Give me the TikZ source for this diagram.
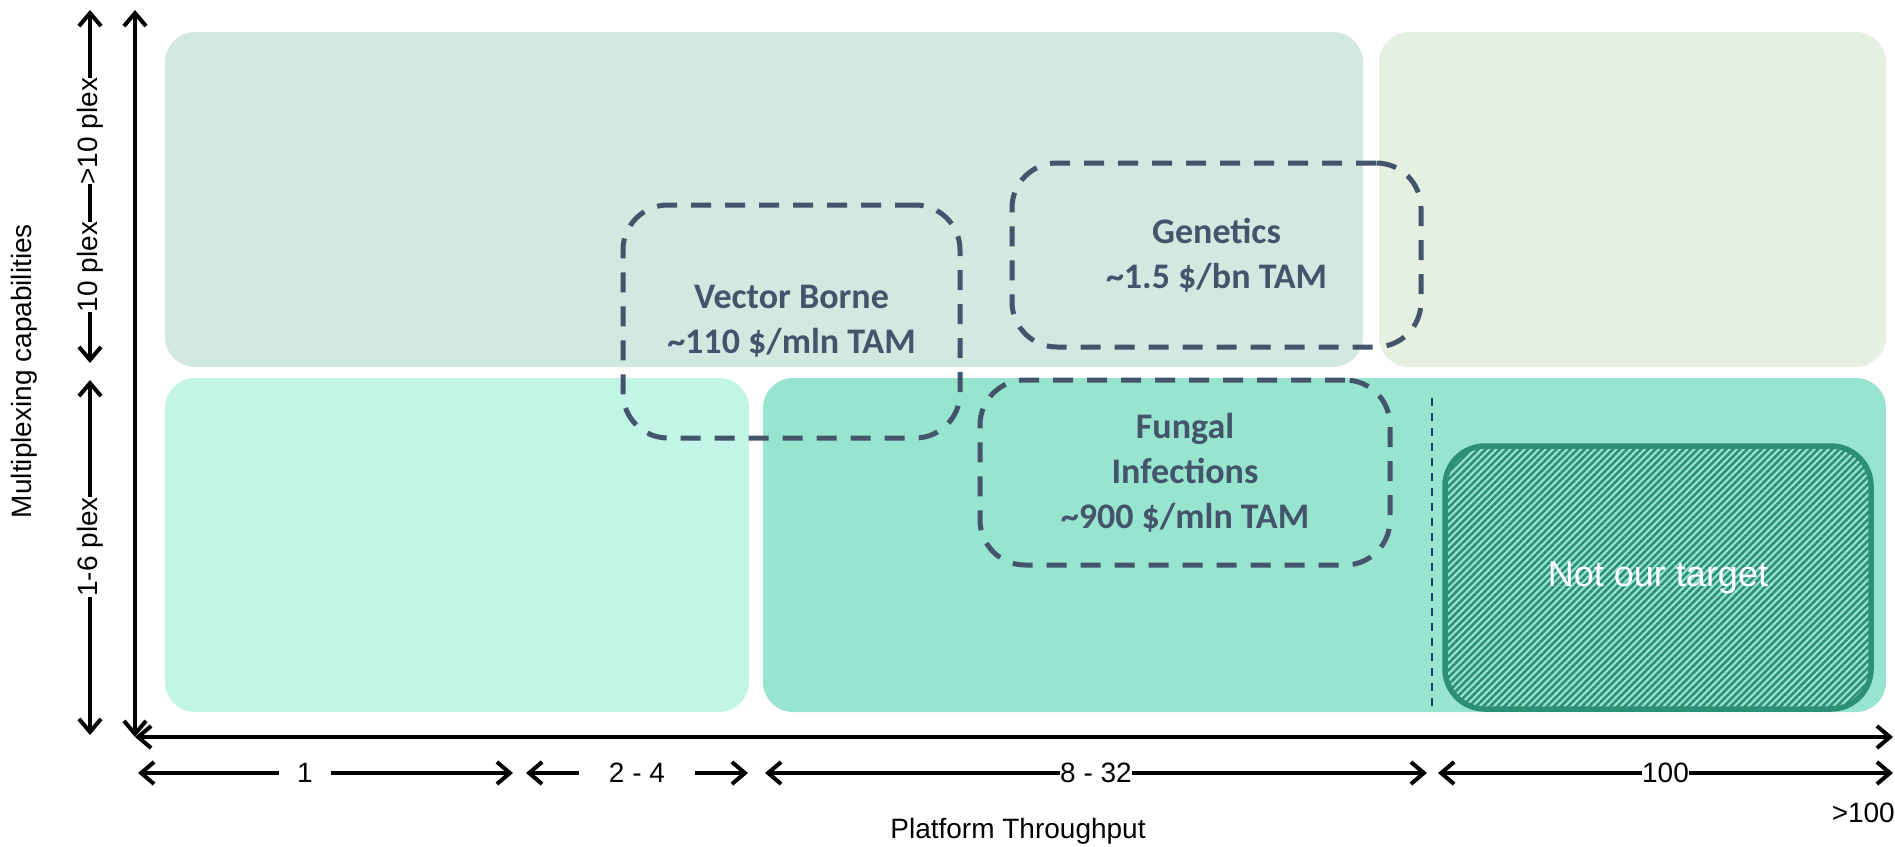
\documentclass[tikz,border=0pt]{standalone}
\usepackage{fontspec}
\setmainfont{Liberation Sans}
\newfontfamily\calibri{Carlito}
\usepackage{tikz}
\usetikzlibrary{arrows.meta,patterns.meta}

\definecolor{tealgrey}{HTML}{D4E8E2}
\definecolor{sage}{HTML}{E5F0E0}
\definecolor{mint}{HTML}{C2F5E6}
\definecolor{jade}{HTML}{98E5CF}
\definecolor{hatchgreen}{HTML}{2D8F76}
\definecolor{slate}{HTML}{44546A}
\definecolor{navy}{HTML}{1F3A6E}

\begin{document}
\begin{tikzpicture}[x=1pt,y=-1pt,
		panel/.style={rounded corners=30pt},
		axis/.style={line width=4pt,{Straight Barb[length=13pt,width=22pt]}-{Straight Barb[length=13pt,width=22pt]}},
		market/.style={draw=slate,line width=5pt,dash pattern=on 20pt off 14pt,rounded corners=45pt,text=slate,align=center,font=\calibri\bfseries\fontsize{36}{45}\selectfont},
		tick/.style={fill=white,inner ysep=1pt,font=\fontsize{28}{34}\selectfont},
		title/.style={font=\fontsize{28}{34}\selectfont}]
		\useasboundingbox (0,0) rectangle (1895,846);
		
		\fill[tealgrey,panel] (165,32) rectangle (1363,367);
		\fill[sage,panel] (1379,32) rectangle (1886,367);
		\fill[mint,panel] (165,378) rectangle (749,712);
		\fill[jade,panel] (763,378) rectangle (1886,712);
		\draw[navy,line width=2pt,dash pattern=on 8pt off 7pt] (1432,398) -- (1432,712);
		
		\node[draw=hatchgreen,line width=5.5pt,rounded corners=40pt,pattern={Lines[angle=45,distance=5pt,line width=2.6pt]},pattern color=hatchgreen,minimum width=426pt,minimum height=263pt,text=white,font=\fontsize{36}{42}\selectfont] (nottarget) at (1658,577.5) {Not our target};
		
		\node[market,minimum width=337pt,minimum height=233pt] (vector) at (791.5,321.5) {Vector Borne\\\textasciitilde110 \$/mln TAM};
		\node[market,minimum width=409pt,minimum height=184pt] (genetics) at (1216.5,255) {Genetics\\\textasciitilde1.5 \$/bn TAM};
		\node[market,minimum width=410pt,minimum height=185pt] (fungal) at (1185,472.5) {Fungal\\Infections\\\textasciitilde900 \$/mln TAM};
		
		\coordinate (origin) at (135,737);
		\coordinate (ytop) at (135,10);
		\coordinate (xend) at (1893,737);
		\draw[axis] (origin) -- (ytop);
		\draw[axis] (origin) -- (xend);
		
		\coordinate (hibot) at (90,363);
		\coordinate (hitop) at (90,10);
		\coordinate (lobot) at (90,735);
		\coordinate (lotop) at (90,380);
		\draw[axis] (hibot) -- node[tick,rotate=90,pos=.272,inner xsep=0pt] (ten) {10 plex} node[tick,rotate=90,pos=.657,inner xsep=0pt] (moreten) {>10 plex} (hitop);
		\draw[axis] (lobot) -- node[tick,rotate=90,pos=.53,inner xsep=0pt] (few) {1-6 plex} (lotop);
		
		\coordinate (a1) at (138,773);
		\coordinate (a2) at (513,773);
		\coordinate (b1) at (526,773);
		\coordinate (b2) at (748,773);
		\coordinate (c1) at (765,773);
		\coordinate (c2) at (1427,773);
		\coordinate (d1) at (1438,773);
		\coordinate (d2) at (1893,773);
		\draw[axis] (a1) -- node[tick,pos=.445,inner xsep=18pt] (one) {1} (a2);
		\draw[axis] (b1) -- node[tick,inner xsep=30pt] (twofour) {2 - 4} (b2);
		\draw[axis] (c1) -- node[tick,inner xsep=0pt] (eight) {8 - 32} (c2);
		\draw[axis] (d1) -- node[tick,inner xsep=0pt] (hundred) {100} (d2);
		
		\node[title,anchor=base] (xtitle) at (1018,838) {Platform Throughput};
		\node[title,anchor=base east,inner sep=0pt] (beyond) at (1895,822) {>100};
		\node[title,rotate=90] (ytitle) at (24,371) {Multiplexing capabilities};
	\end{tikzpicture}
\end{document}
